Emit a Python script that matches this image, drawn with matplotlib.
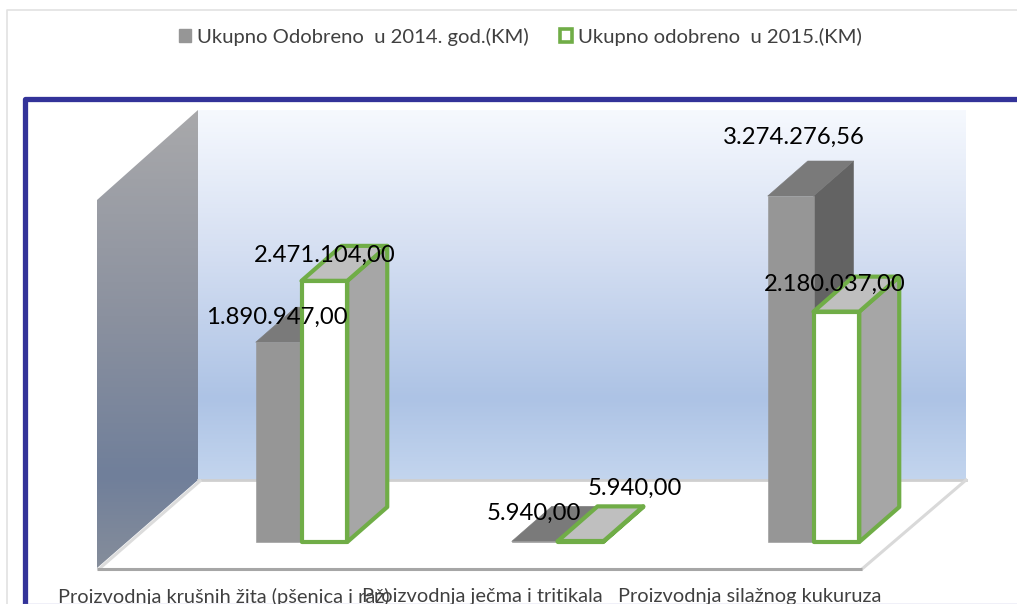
import numpy as np
import matplotlib
matplotlib.use('Agg')
import matplotlib.pyplot as plt
from matplotlib.colors import LinearSegmentedColormap
from matplotlib.patches import Patch, Polygon

plt.rcParams['font.family'] = ['Lato', 'DejaVu Sans']

categories = ['Proizvodnja krušnih žita (pšenica i raž)', 'Proizvodnja ječma i tritikala', 'Proizvodnja silažnog kukuruza']
series_names = ['Ukupno Odobreno  u 2014. god.(KM)', 'Ukupno odobreno  u 2015.(KM)']
values_2014 = [1890947.00, 5940.00, 3274276.56]
values_2015 = [2471104.00, 5940.00, 2180037.00]
labels_2014 = ['1.890.947,00', '5.940,00', '3.274.276,56']
labels_2015 = ['2.471.104,00', '5.940,00', '2.180.037,00']

W, H = 1017, 604
GREEN = '#70ad47'
BLUE = '#333399'

# pixel sizes of the fake 3d projection
cat_px = 256.0
first_cat_px = 301.5
base_px = 542.0
km_per_px = 3274276.56 / 346.0
bar_w = 45.75 / cat_px
dx = 40.0 / cat_px
dy = 35.0 * km_per_px

fig = plt.figure(figsize=(W / 100, H / 100), dpi=100, facecolor='white')

# background axes in pixels: frame, walls, floor
bg = fig.add_axes([0, 0, 1, 1])
bg.set_axis_off()


def gradient(ax, poly, extent, stops):
    patch = Polygon(poly, closed=True, facecolor='none', edgecolor='none')
    ax.add_patch(patch)
    cmap = LinearSegmentedColormap.from_list('g', stops)
    im = ax.imshow(np.linspace(0, 1, 256).reshape(-1, 1), extent=extent, cmap=cmap, aspect='auto', zorder=1)
    im.set_clip_path(patch)


gradient(bg, [(198, 110), (966, 110), (966, 480), (198, 480)], [198, 966, 480, 110],
         [(0, '#f6f9fe'), (0.38, '#d5dff2'), (0.78, '#adc3e5'), (1, '#c3d5ee')])
gradient(bg, [(97, 200), (198, 110), (198, 480), (97, 568)], [97, 198, 568, 110],
         [(0, '#a9a9ab'), (0.45, '#8b919f'), (0.8, '#707f9a'), (1, '#858d9b')])

bg.plot([198, 966], [480, 480], color='#cfcfcf', lw=2, zorder=2)
bg.plot([99, 200], [569, 481], color='#dcdcdc', lw=2.2, zorder=2)
bg.plot([862, 966], [569, 480], color='#d9d9d9', lw=2.2, zorder=2)
bg.plot([97, 862], [569, 569], color='#a6a6a6', lw=2.2, zorder=2, solid_capstyle='butt')

# frames
bg.plot([6.5, 6.5, W], [H, 9.5, 9.5], color='#e2e2e2', lw=1.2, zorder=2)
bg.plot([24.5, 24.5, W], [H, 98.5, 98.5], color=BLUE, lw=3.8, zorder=3, solid_joinstyle='round')
bg.plot([24, W], [603.5, 603.5], color='#8a8ac8', lw=0.9, zorder=3)
bg.set_xlim(0, W)
bg.set_ylim(H, 0)

# chart axes, value and category scales
ax = fig.add_axes([0, (H - 569) / H, 1, (569 - 110) / H])
ax.patch.set_alpha(0)
ax.set_xlim(-first_cat_px / cat_px, (W - first_cat_px) / cat_px)
ax.set_ylim(-(569 - base_px) * km_per_px, (base_px - 110) * km_per_px)
for s in ax.spines.values():
    s.set_visible(False)
ax.set_yticks([])

x = np.arange(len(categories))


def bar3d(cx, val, front, side, top, edge=None):
    x0 = cx - bar_w / 2
    x1 = cx + bar_w / 2
    faces = [
        ([(x1, 0), (x1 + dx, dy), (x1 + dx, val + dy), (x1, val)], side),
        ([(x0, val), (x1, val), (x1 + dx, val + dy), (x0 + dx, val + dy)], top),
        ([(x0, 0), (x1, 0), (x1, val), (x0, val)], front),
    ]
    for pts, col in faces:
        ax.add_patch(Polygon(pts, closed=True, facecolor=col,
                             edgecolor=edge if edge else col,
                             lw=3.0 if edge else 0.4, joinstyle='round', zorder=3))


for i in x:
    bar3d(i - bar_w / 2, values_2014[i], '#969696', '#636363', '#7a7a7a')
    bar3d(i + bar_w / 2, values_2015[i], 'white', '#a6a6a6', '#bfbfbf', edge=GREEN)

# value labels, offsets in pixels from front top of each bar
off_2014 = [(-2, 25), (-1, 28), (3, 59)]
off_2015 = [(0, 26), (54, 53), (-2, 27)]
for i in x:
    ax.annotate(labels_2014[i], (i - bar_w / 2, values_2014[i]), xytext=(off_2014[i][0] * 0.72, off_2014[i][1] * 0.72),
                textcoords='offset points', ha='center', va='center', fontsize=17.2, color='black', zorder=5)
    ax.annotate(labels_2015[i], (i + bar_w / 2, values_2015[i]), xytext=(off_2015[i][0] * 0.72, off_2015[i][1] * 0.72),
                textcoords='offset points', ha='center', va='center', fontsize=17.2, color='black', zorder=5)

# category labels sit under the front edge of the floor, not under the bars
label_px = [223.5, 482.5, 750.0]
ax.set_xticks([(p - first_cat_px) / cat_px for p in label_px])
ax.set_xticklabels(categories, fontsize=14.4, color='#404040')
ax.tick_params(axis='x', length=0, pad=13.5)

handles = [Patch(facecolor='#969696', edgecolor='#969696'),
           Patch(facecolor='white', edgecolor=GREEN, lw=2.6)]
ax.legend(handles, series_names, loc='center', bbox_to_anchor=(520.5 / W, (569 - 37) / (569 - 110)),
          ncol=2, frameon=False, fontsize=14.6, labelcolor='#404040', handlelength=0.62, handleheight=0.62,
          handletextpad=0.3, columnspacing=1.5, borderpad=0)

plt.savefig('out.png', dpi=100)
